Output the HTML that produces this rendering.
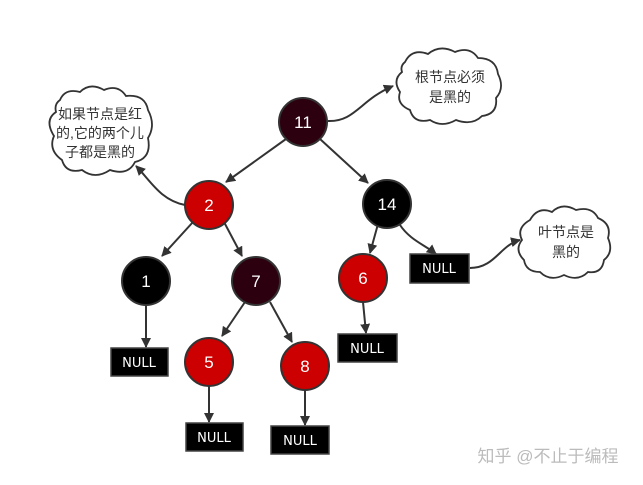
<!DOCTYPE html>
<html><head><meta charset="utf-8"><style>
html,body{margin:0;padding:0;background:#fff;}
svg{display:block;}
.n{font-family:"Liberation Sans","DejaVu Sans",sans-serif;fill:#fff;font-size:17px;text-anchor:middle;}
.nl{font-family:"DejaVu Sans","Liberation Sans",sans-serif;fill:#fff;font-size:13px;text-anchor:middle;}
.c{font-family:"Liberation Sans","Noto Sans CJK SC",sans-serif;fill:#333;font-size:14px;text-anchor:middle;}
</style></head><body>
<svg width="643" height="485" viewBox="0 0 643 485" xmlns="http://www.w3.org/2000/svg">
<defs><marker id="a" markerWidth="10" markerHeight="10" refX="9" refY="5" orient="auto" markerUnits="userSpaceOnUse"><path d="M0,0 L10,5 L0,10 Z" fill="#333"/></marker></defs>
<g stroke="#333" stroke-width="2" fill="none" marker-end="url(#a)">
<line x1="286" y1="139" x2="226" y2="182"/>
<line x1="320" y1="139" x2="368" y2="183"/>
<line x1="193" y1="222" x2="162" y2="256"/>
<line x1="224" y1="222" x2="242" y2="256"/>
<line x1="245" y1="302" x2="222" y2="336"/>
<line x1="270" y1="302" x2="292" y2="342"/>
<line x1="146" y1="305" x2="146" y2="347"/>
<line x1="209" y1="386" x2="209" y2="422"/>
<line x1="305" y1="390" x2="305" y2="425"/>
<line x1="378" y1="224" x2="370" y2="253"/>
<line x1="363" y1="302" x2="366" y2="333"/>
<path d="M400,225 C410,240 425,245 436,254"/>
<path d="M185,205 C160,200 150,180 136,166"/>
<path d="M328,121 C355,122 360,100 393,86"/>
<path d="M470,268 C495,268 500,245 520,240"/>
</g>
<g stroke="#333" stroke-width="2">
<circle cx="303" cy="122" r="24" fill="#2d0010"/>
<circle cx="209" cy="205" r="24" fill="#cc0000"/>
<circle cx="387" cy="204" r="24" fill="#000"/>
<circle cx="146" cy="281" r="24" fill="#000"/>
<circle cx="256" cy="281" r="24" fill="#2d0010"/>
<circle cx="363" cy="278" r="24" fill="#cc0000"/>
<circle cx="209" cy="362" r="24" fill="#cc0000"/>
<circle cx="305" cy="366" r="24" fill="#cc0000"/>
</g>
<text class="n" x="303" y="128">11</text>
<text class="n" x="209" y="211">2</text>
<text class="n" x="387" y="210">14</text>
<text class="n" x="146" y="287">1</text>
<text class="n" x="256" y="287">7</text>
<text class="n" x="363" y="284">6</text>
<text class="n" x="209" y="368">5</text>
<text class="n" x="305" y="372">8</text>
<g fill="#000" stroke="#444" stroke-width="1.5">
<rect x="111" y="348" width="57" height="28"/>
<rect x="338" y="334" width="59" height="28"/>
<rect x="410" y="254" width="59" height="29"/>
<rect x="186" y="423" width="57" height="28"/>
<rect x="271" y="426" width="58" height="28"/>
</g>
<text class="nl" x="139" y="367">NULL</text>
<text class="nl" x="367" y="353">NULL</text>
<text class="nl" x="439" y="273">NULL</text>
<text class="nl" x="214" y="442">NULL</text>
<text class="nl" x="300" y="445">NULL</text>
<g fill="#fff" stroke="#333" stroke-width="1.8">
<path d="M60,100 Q65,88 80,92 Q90,82 104,90 Q118,84 126,96 Q145,94 148,110 Q156,125 148,138 Q152,158 135,162 Q128,176 110,170 Q95,180 82,170 Q66,174 62,160 Q48,150 54,136 Q44,120 56,112 Q54,104 60,100 Z"/>
<path d="M405,62 Q412,48 428,54 Q440,44 455,52 Q470,46 478,58 Q496,58 498,74 Q505,88 496,98 Q498,114 482,116 Q472,126 456,120 Q442,128 430,120 Q414,124 410,110 Q396,104 400,92 Q392,80 402,72 Q400,66 405,62 Z"/>
<path d="M530,220 Q538,206 552,212 Q562,202 576,210 Q592,206 598,218 Q612,224 608,238 Q614,252 604,260 Q602,274 588,272 Q578,282 564,275 Q550,282 540,272 Q526,272 524,260 Q514,250 522,240 Q516,228 530,220 Z"/>
</g>
<text class="c" x="100" y="119">如果节点是红</text>
<text class="c" x="100" y="138">的,它的两个儿</text>
<text class="c" x="100" y="157">子都是黑的</text>
<text class="c" x="450" y="82">根节点必须</text>
<text class="c" x="450" y="102">是黑的</text>
<text class="c" x="566" y="237">叶节点是</text>
<text class="c" x="566" y="257">黑的</text>
<text x="548" y="462" font-family="Liberation Sans,Noto Sans CJK SC,sans-serif" font-size="17" fill="#bbb" text-anchor="middle">知乎 @不止于编程</text>
</svg>
</body></html>
